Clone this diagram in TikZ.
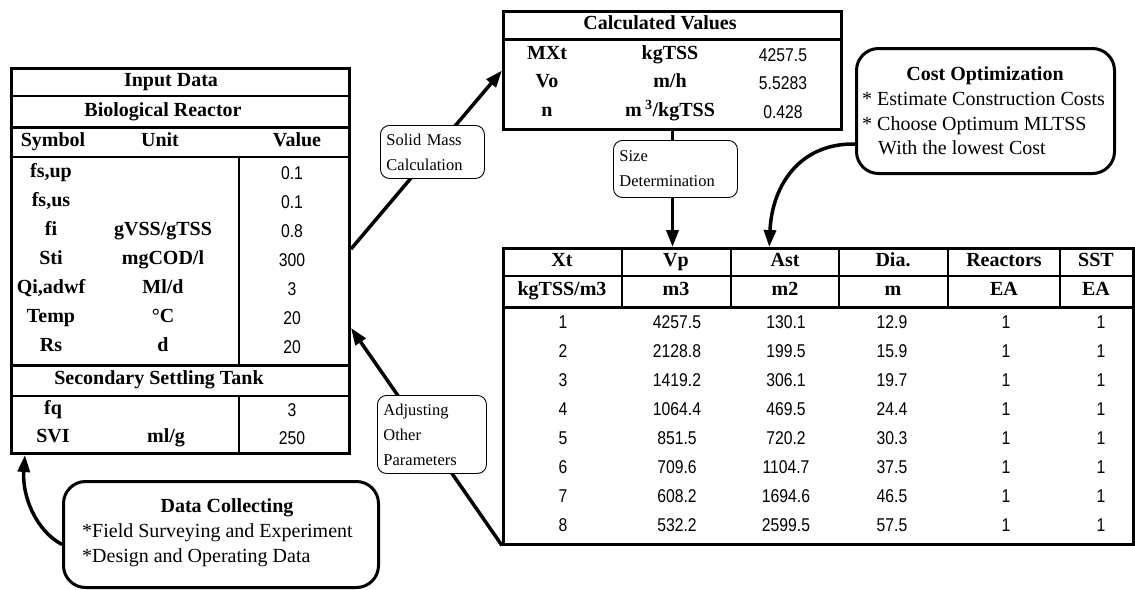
\documentclass[tikz,border=0pt]{standalone}
\usepackage{fontspec}
\setmainfont{Liberation Serif}
\newfontfamily\numfont[FakeStretch=0.85]{Liberation Sans}
\usetikzlibrary{arrows.meta}
\usetikzlibrary{positioning}

\tikzset{
  tabframe/.style={draw, line width=3pt, inner sep=0pt, anchor=north west},
  hd/.style={font=\fontsize{20}{23}\selectfont\bfseries, text height=13.5pt, text depth=4pt, inner sep=0pt},
  val/.style={font=\numfont\fontsize{18.5}{21}\selectfont, text height=13pt, text depth=0pt, inner sep=0pt},
  rule/.style={line width=1.2pt},
  heavy/.style={line width=3pt},
  tag/.style={draw, line width=0.9pt, rounded corners=9pt, fill=white, align=left,
    anchor=north west, inner ysep=0pt, inner xsep=6pt, font=\fontsize{16.5}{25}\selectfont},
  bubble/.style={draw, line width=3pt, rounded corners=22pt, fill=white, anchor=north west, inner sep=0pt},
  say/.style={font=\fontsize{20}{25}\selectfont, anchor=base west, inner sep=0pt},
  sayhd/.style={font=\fontsize{20}{25}\selectfont\bfseries, anchor=base, inner sep=0pt},
  flow/.style={line width=3.5pt, -{Triangle[length=17pt,width=12pt]}}
}

\begin{document}
\begin{tikzpicture}[x=1pt,y=-1pt]
  \useasboundingbox (0,0) rectangle (1135,589);

  % input data table
  \node[tabframe, minimum width=338pt, minimum height=385pt] (inputtab) at (10,67) {};
  \draw[line width=2.5pt] (10,96) -- (348,96);
  \draw[heavy] (10,127) -- (348,127);
  \draw[rule] (10,157) -- (348,157);
  \draw[heavy] (10,365) -- (348,365);
  \draw[line width=2pt] (10,396) -- (348,396);
  \draw[rule] (239,157) -- (239,365);
  \draw[rule] (239,396) -- (239,452);
  \node[hd] (inhead) at (171,82) {Input Data};
  \node[hd] (biohead) at (163,112) {Biological Reactor};
  \node[hd] (symhead) at (53,142) {Symbol};
  \node[hd] (unithead) at (160,142) {Unit};
  \node[hd] (valhead) at (297,142) {Value};
  \foreach \sym/\unit/\v [count=\i] in {fs{,}up/{}/0.1, fs{,}us/{}/0.1, fi/{gVSS/gTSS}/0.8,
      Sti/{mgCOD/l}/300, Qi{,}adwf/{Ml/d}/3, Temp/{°C}/20, Rs/d/20} {
    \node[hd] (sym\i) at (51,{144+29*\i}) {\sym};
    \node[hd] (unit\i) at (163,{144+29*\i}) {\unit};
    \node[val] (val\i) at (292,{144+29*\i}) {\v};
  }
  \node[hd] (ssthead) at (159,380) {Secondary Settling Tank};
  \node[hd] (fqsym) at (53,410) {fq};
  \node[val] (fqval) at (292,410) {3};
  \node[hd] (svisym) at (53,438) {SVI};
  \node[hd] (sviunit) at (166,438) {ml/g};
  \node[val] (svival) at (292,438) {250};

  % calculated values
  \node[tabframe, minimum width=338pt, minimum height=118pt] (calctab) at (502,10) {};
  \draw[heavy] (502,39) -- (840,39);
  \node[hd] (calchead) at (660,25) {Calculated Values};
  \foreach \sym/\unit/\v/\yy in {MXt/kgTSS/4257.5/55, Vo/{m/h}/5.5283/83,
      n/{m\,\textsuperscript{3}/kgTSS}/0.428/112} {
    \node[hd] (c\sym) at (547,\yy) {\sym};
    \node[hd] (cu\sym) at (670,\yy) {\unit};
    \node[val] (cv\sym) at (783,\yy) {\v};
  }

  % size table
  \node[tabframe, line width=2.5pt, minimum width=630pt, minimum height=296pt] (sizetab) at (502,247) {};
  \draw[rule] (502,276) -- (1132,276);
  \draw[heavy] (502,307) -- (1132,307);
  \foreach \lx in {622,731,839,948}
    \draw[rule] (\lx,247) -- (\lx,307);
  \draw[line width=2.5pt] (1060,247) -- (1060,307);
  \foreach \cx/\top/\bot [count=\j] in {562/Xt/{kgTSS/m3}, 676/Vp/m3, 785/Ast/m2,
      893/Dia./m, 1004/Reactors/EA, 1096/SST/EA} {
    \node[hd] (top\j) at (\cx,262) {\top};
    \node[hd] (bot\j) at (\cx,291) {\bot};
  }
  \foreach \vp/\ast/\dia [count=\i] in {4257.5/130.1/12.9, 2128.8/199.5/15.9,
      1419.2/306.1/19.7, 1064.4/469.5/24.4, 851.5/720.2/30.3, 709.6/1104.7/37.5,
      608.2/1694.6/46.5, 532.2/2599.5/57.5} {
    \node[val] (xt\i) at (563,{293+29*\i}) {\i};
    \node[val] (vp\i) at (677,{293+29*\i}) {\vp};
    \node[val] (ast\i) at (786,{293+29*\i}) {\ast};
    \node[val] (dia\i) at (892,{293+29*\i}) {\dia};
    \node[val] (rea\i) at (1006,{293+29*\i}) {1};
    \node[val] (sst\i) at (1101,{293+29*\i}) {1};
  }

  % bubbles
  \node[bubble, minimum width=258pt, minimum height=125pt] (costbox) at (855,47) {};
  \node[sayhd] (costhead) at (985,80) {Cost Optimization};
  \node[say] (cost1) at (862,105) {* Estimate Construction Costs};
  \node[say] (cost2) at (862,130) {* Choose Optimum MLTSS};
  \node[say] (cost3) at (878,154) {With the lowest Cost};

  \node[bubble, minimum width=315pt, minimum height=106pt] (databox) at (62,480) {};
  \node[sayhd] (datahead) at (227,512) {Data Collecting};
  \node[say] (data1) at (82,537) {*Field Surveying and Experiment};
  \node[say] (data2) at (82,562) {*Design and Operating Data};

  % connectors
  \draw[flow] ([yshift=12pt]inputtab.east) -- (calctab.west);
  \draw[flow] (calctab.south) -- (calctab.south |- sizetab.north);
  \draw[flow] ([yshift=-33pt]costbox.west) .. controls (800,143) and (772,185) .. ([xshift=-49pt]sizetab.north);
  \draw[flow] (sizetab.south west) -- ([yshift=-67pt]inputtab.east);
  \draw[flow] ([yshift=-10pt]databox.west) .. controls (35,530) and (22,495) .. ([xshift=15pt]inputtab.south west);

  % labels on the connectors
  \node[tag, text width=92pt, minimum height=53pt] (solidtag) at (380,125) {Solid Mass\\Calculation};
  \node[tag, text width=112pt, minimum height=57pt] (sizetag) at (613,140) {Size\\Determination};
  \node[tag, text width=97pt, minimum height=78pt] (adjtag) at (377,395) {Adjusting\\Other\\Parameters};
\end{tikzpicture}
\end{document}
